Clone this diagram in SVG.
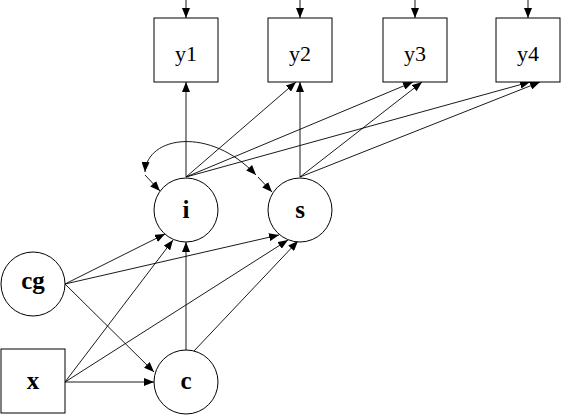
<svg xmlns="http://www.w3.org/2000/svg" width="561" height="415" viewBox="0 0 561 415">
<defs>
<marker id="ah" viewBox="0 0 10 8" refX="10" refY="4" markerWidth="10" markerHeight="8" markerUnits="userSpaceOnUse" orient="auto-start-reverse">
<path d="M0,0 L10,4 L0,8 Z" fill="#000"/>
</marker>
</defs>
<style>
.box{fill:#fff;stroke:#000;stroke-width:1}
.lat{fill:#fff;stroke:#000;stroke-width:1}
.lbl{font-family:'Liberation Serif',serif;font-size:22px;text-anchor:middle;fill:#000}
.lblb{font-family:'Liberation Serif',serif;font-size:25px;font-weight:bold;text-anchor:middle;fill:#000}
.con line,.con path{stroke:#000;stroke-width:0.9;fill:none;marker-end:url(#ah)}
</style>
<g id="connectors" class="con">
<line x1="186" y1="0" x2="186" y2="18"/>
<line x1="300" y1="0" x2="300" y2="18"/>
<line x1="415" y1="0" x2="415" y2="18"/>
<line x1="528" y1="0" x2="528" y2="18"/>
<line x1="186" y1="177" x2="186" y2="82"/>
<line x1="186" y1="177" x2="296" y2="82"/>
<line x1="186" y1="177" x2="413" y2="82"/>
<line x1="186" y1="177" x2="530" y2="82"/>
<line x1="300" y1="177" x2="300" y2="82"/>
<line x1="300" y1="177" x2="422" y2="82"/>
<line x1="300" y1="177" x2="540" y2="82"/>
<path d="M145,172 C147,136 210,126 256,175" style="marker-start:url(#ah)"/>
<line x1="145" y1="175" x2="160" y2="191"/>
<line x1="258" y1="177" x2="272" y2="192"/>
<line x1="65" y1="284" x2="165" y2="234"/>
<line x1="65" y1="284" x2="279" y2="235"/>
<line x1="65" y1="284" x2="154" y2="372"/>
<line x1="65" y1="382" x2="173" y2="240"/>
<line x1="65" y1="382" x2="288" y2="240"/>
<line x1="65" y1="382" x2="154" y2="382"/>
<line x1="186" y1="350" x2="186" y2="242"/>
<line x1="194" y1="351" x2="298" y2="241"/>
</g>
<g id="y1"><rect class="box" x="154" y="18" width="64" height="64"/><text class="lbl" x="186" y="61">y1</text></g>
<g id="y2"><rect class="box" x="268" y="18" width="64" height="64"/><text class="lbl" x="300" y="61">y2</text></g>
<g id="y3"><rect class="box" x="383" y="18" width="64" height="64"/><text class="lbl" x="415" y="61">y3</text></g>
<g id="y4"><rect class="box" x="496" y="18" width="64" height="64"/><text class="lbl" x="528" y="61">y4</text></g>
<g id="i"><circle class="lat" cx="186" cy="210" r="32"/><text class="lblb" x="186" y="218">i</text></g>
<g id="s"><circle class="lat" cx="300" cy="210" r="32"/><text class="lblb" x="300" y="218">s</text></g>
<g id="cg"><circle class="lat" cx="33" cy="284" r="32"/><text class="lblb" x="33" y="289">cg</text></g>
<g id="x"><rect class="box" x="1" y="349" width="64" height="64"/><text class="lblb" x="33" y="389">x</text></g>
<g id="c"><circle class="lat" cx="186" cy="382" r="32"/><text class="lblb" x="186" y="389">c</text></g>
</svg>
